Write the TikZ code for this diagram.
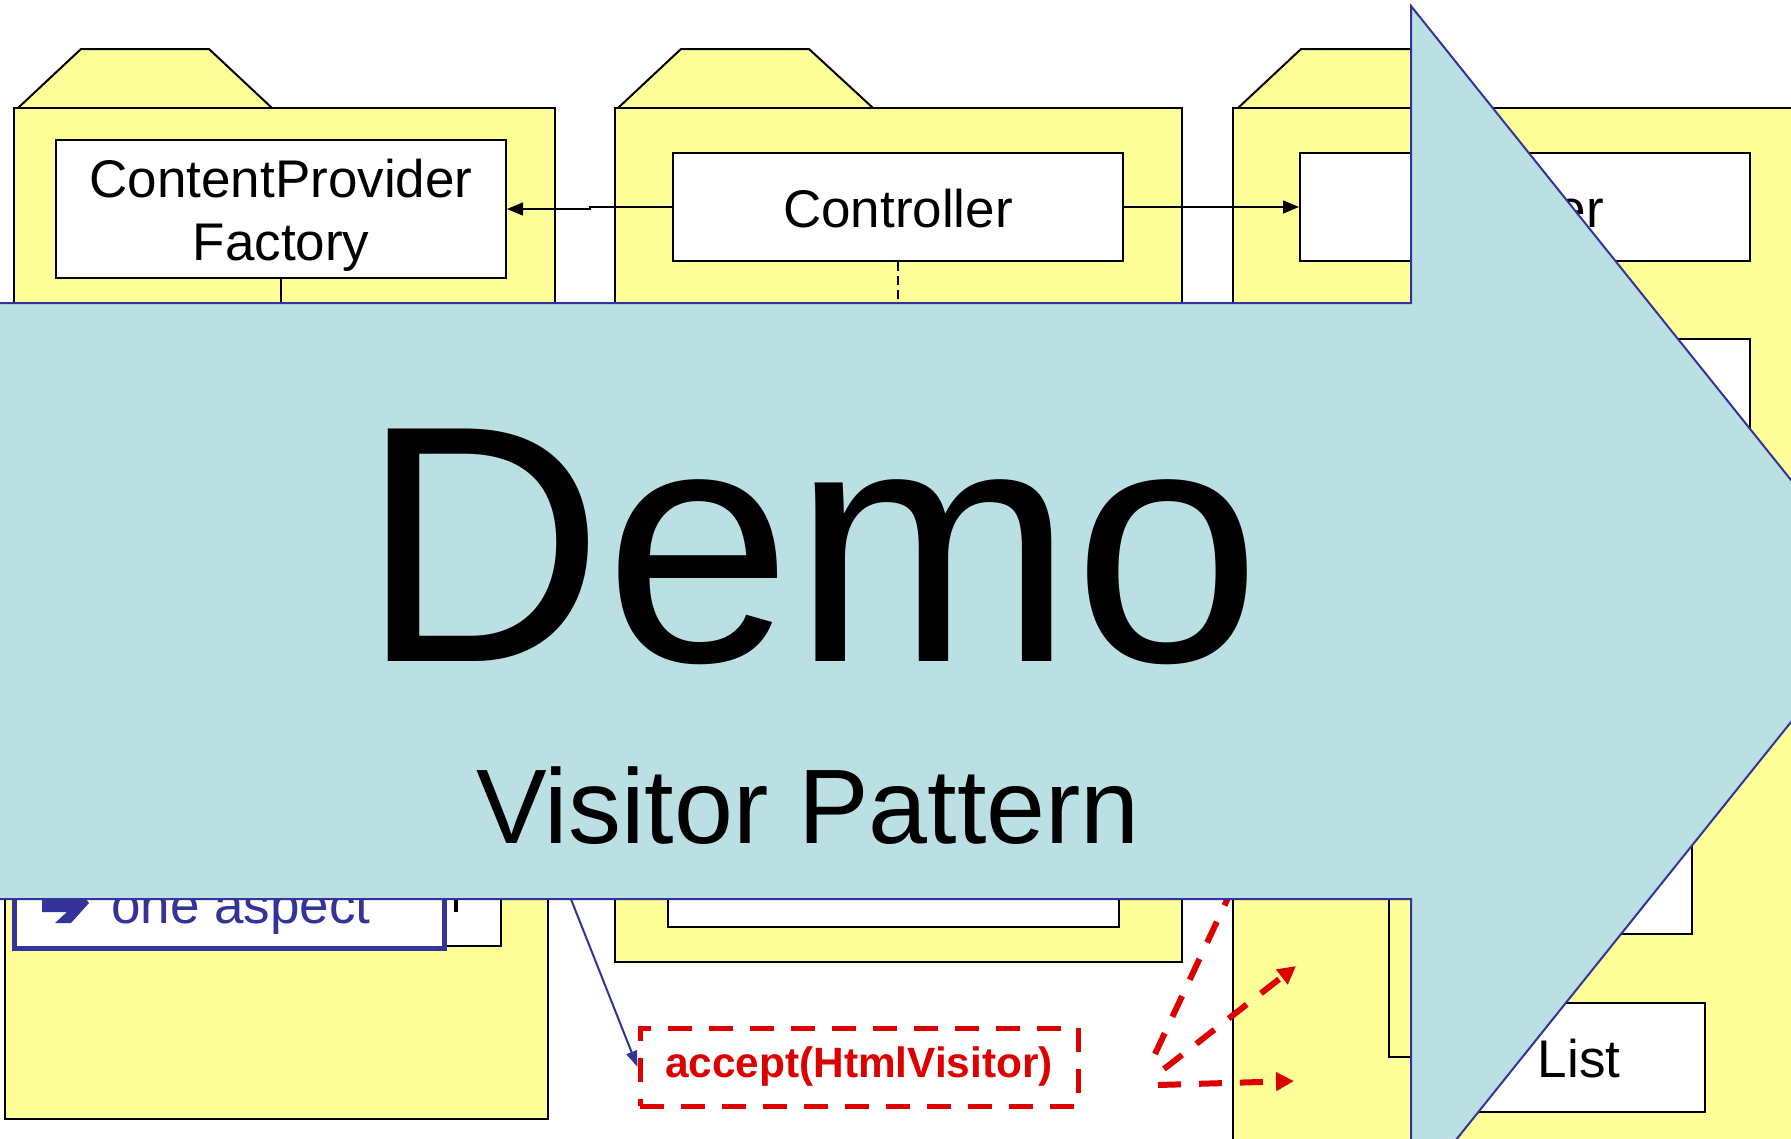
\documentclass[tikz,border=0pt]{standalone}
\usepackage{fontspec}
\setmainfont{Liberation Sans}
\usetikzlibrary{arrows.meta}
\definecolor{pkgyellow}{RGB}{255,255,153}
\definecolor{umlblue}{RGB}{51,51,153}
\definecolor{hotred}{RGB}{221,0,0}
\definecolor{arrowcyan}{RGB}{187,224,227}
\begin{document}
\begin{tikzpicture}[x=1pt,y=-1pt,
  pkg/.style={fill=pkgyellow,draw=black,line width=2pt},
  cls/.style={draw=black,fill=white,line width=2pt,inner sep=0pt},
  lbl/.style={inner sep=0pt,font=\fontsize{53}{63}\selectfont},
  conn/.style={line width=1.5pt,-{Triangle[length=16pt,width=13pt]}},
  blueconn/.style={draw=umlblue,line width=2pt,-{Triangle[length=16pt,width=11pt]}},
  redflow/.style={draw=hotred,line width=6pt,dash pattern=on 23pt off 18pt,
    -{Triangle[length=18pt,width=18pt]}},
  hint/.style={draw=hotred,line width=5pt,dash pattern=on 24pt off 17pt,fill=white,
    inner sep=0pt,text=hotred,font=\fontsize{42.4}{50}\selectfont\bfseries}
]
\useasboundingbox (0,0) rectangle (1791,1138);
\clip (0,0) rectangle (1791,1138);
\fill[white] (0,0) rectangle (1791,1138);

% ---- packages ----
\draw[pkg] (18,108) -- (81,49) -- (209,49) -- (272,108) -- cycle;
\draw[pkg] (14,108) rectangle (555,700);
\draw[pkg] (5,750) rectangle (548,1119);
\draw[pkg] (618,108) -- (681,49) -- (809,49) -- (873,108) -- cycle;
\draw[pkg] (615,108) rectangle (1182,962);
\draw[pkg] (1238,108) -- (1301,49) -- (1421,49) -- (1485,108) -- cycle;
\draw[pkg] (1233,108) rectangle (1820,1160);
\draw[pkg] (1389,850) rectangle (1450,1057);

% ---- classes ----
\node[cls,minimum width=450pt,minimum height=138pt] (cpf) at (281,209) {};
\node[lbl,anchor=base] (cpfl1) at (281,197) {ContentProvider};
\node[lbl,anchor=base] (cpfl2) at (281,260) {Factory};
\node[cls,minimum width=450pt,minimum height=108pt] (ctrl) at (898,207) {};
\node[lbl,anchor=base] (ctrll) at (898,227) {Controller};
\node[cls,minimum width=450pt,minimum height=108pt] (view) at (1525,207) {};
\node[lbl,anchor=base east] (viewl) at (1604,227) {er};
\node[cls,minimum width=450pt,minimum height=261pt] (ra) at (1525,469.5) {};
\node[cls,minimum width=242pt,minimum height=234pt] (rb) at (1571,817) {};
\node[cls,minimum width=250pt,minimum height=109pt] (list) at (1580,1057.5) {};
\node[lbl,anchor=base] (listl) at (1579,1077) {List};
\node[cls,minimum width=451pt,minimum height=77pt] (p2box) at (893.5,888.5) {};
\node[cls,minimum width=445pt,minimum height=96pt] (llbox) at (278.5,898) {};
\fill (453.5,897) rectangle (457.5,912);

% ---- note box ----
\node[cls,draw=umlblue,line width=5pt,minimum width=430pt,minimum height=96pt] (aspect) at (229.5,900.5) {};
\fill[umlblue] (42,899) -- (86,899) -- (89,903) -- (71,923) -- (55,923) -- (67,912) -- (42,912) -- cycle;
\node[lbl,anchor=base west,text=umlblue] (aspectl) at (111,923) {one aspect};

% ---- connectors ----
\draw[conn] (ctrl.west) -- (590,207) -- (590,209) -- (cpf.east);
\draw[conn] (ctrl.east) -- (view.west);
\coordinate (cpfdown) at (281,420);
\draw[line width=1.5pt] (cpf.south) -- (cpfdown);
\coordinate (ctrldown) at (898,420);
\draw[line width=1.5pt,dash pattern=on 9pt off 5pt] (ctrl.south) -- (ctrldown);

% ---- accept call and its dispatch ----
\node[hint,minimum width=438pt,minimum height=78pt] (acc) at (859,1067) {accept(HtmlVisitor)};
\coordinate (bluesrc) at (538,816);
\draw[blueconn] (bluesrc) -- (acc.west);
\coordinate (r1s) at (1155,1054);
\coordinate (r1e) at (1263,823);
\coordinate (r2s) at (1164,1069);
\coordinate (r2e) at (1296,966);
\coordinate (r3s) at (1158,1085);
\coordinate (r3e) at (1294,1081);
\draw[redflow] (r1s) -- (r1e);
\draw[redflow] (r2s) -- (r2e);
\draw[redflow] (r3s) -- (r3e);

% ---- title arrow ----
\draw[fill=arrowcyan,draw=umlblue,line width=2pt,line join=miter]
  (-10,303) -- (1411,303) -- (1411,6) -- (1888,601) -- (1411,1196) -- (1411,899) -- (-10,899) -- cycle;
\node[anchor=base,inner sep=0pt,font=\fontsize{338}{338}\selectfont] (demo) at (811,661) {Demo};
\node[anchor=base,inner sep=0pt,font=\fontsize{106}{106}\selectfont] (subtitle) at (808,843) {Visitor Pattern};
\end{tikzpicture}
\end{document}
